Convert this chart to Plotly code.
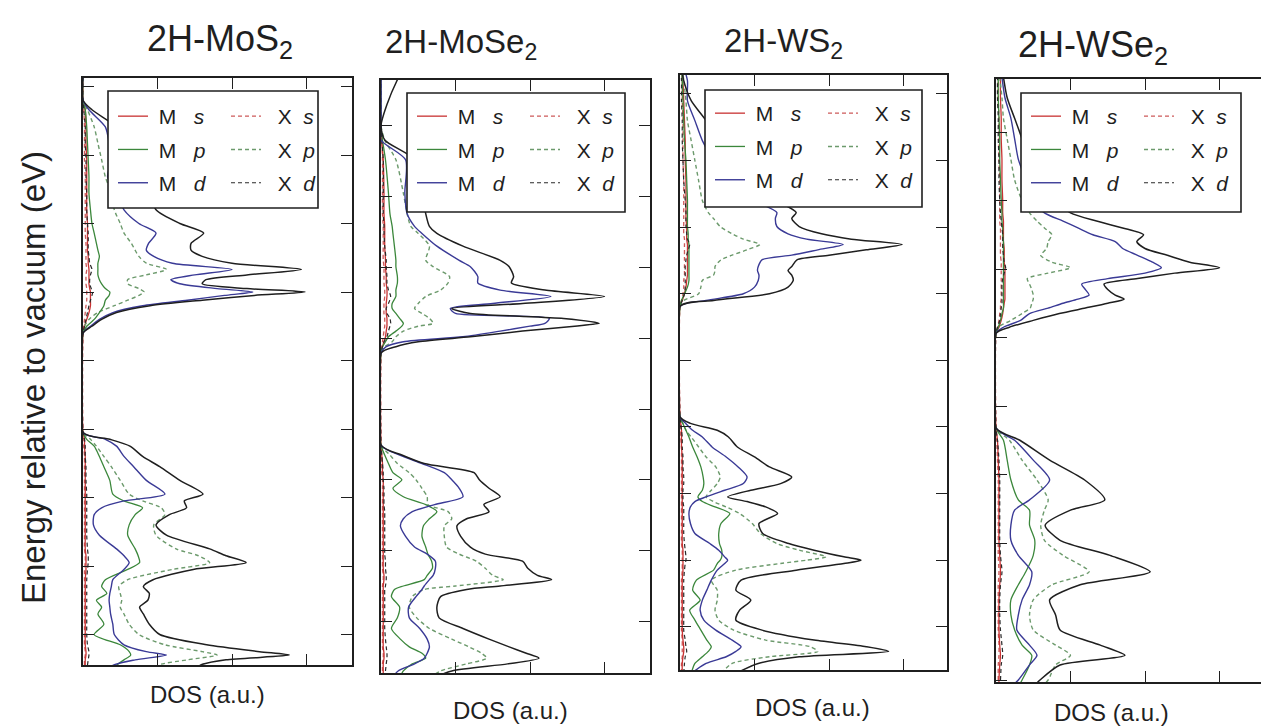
import plotly.graph_objects as go
from plotly.subplots import make_subplots

# ---------------------------------------------------------------------------
# Projected densities of states (a.u.) versus energy relative to vacuum (eV)
# ---------------------------------------------------------------------------

# 2H-MoS2
mos2_energy = [-9.55, -9.45, -9.37, -9.30, -9.25, -9.15, -9.00, -8.85, -8.70, -8.60,
               -8.50, -8.40, -8.30, -8.20, -8.05, -7.95, -7.85, -7.75, -7.55, -7.40,
               -7.25, -7.15, -7.05, -6.95, -6.75, -6.55, -6.40, -6.25, -6.15, -6.05,
               -4.60, -4.50, -4.40, -4.30, -4.20, -4.12, -4.05, -4.00, -3.95, -3.88,
               -3.82, -3.75, -3.67, -3.58, -3.48, -3.39, -3.29, -3.14, -3.00, -2.80,
               -2.56, -2.32, -2.07, -1.83, -1.59, -1.34, -1.20, -0.80]
mos2_total = [1.48, 1.57, 1.92, 2.77, 2.37, 1.66, 1.03, 0.89, 0.81, 0.76,
              0.87, 0.89, 0.81, 0.94, 1.48, 2.19, 1.92, 1.70, 1.12, 0.98,
              1.16, 1.39, 1.36, 1.61, 1.30, 1.03, 0.80, 0.63, 0.36, 0.00,
              0.00, 0.12, 0.25, 0.45, 0.90, 1.60, 2.30, 2.98, 2.20, 1.60,
              1.65, 2.20, 2.93, 2.00, 1.60, 1.45, 1.45, 1.62, 1.30, 0.98,
              0.90, 0.80, 0.70, 0.60, 0.45, 0.12, 0.00, 0.00]
mos2_md = [0.30, 0.40, 0.70, 1.12, 0.85, 0.55, 0.42, 0.40, 0.37, 0.36,
           0.35, 0.36, 0.38, 0.40, 0.55, 0.62, 0.55, 0.45, 0.22, 0.14,
           0.15, 0.25, 0.55, 1.10, 0.85, 0.68, 0.55, 0.45, 0.30, 0.00,
           0.00, 0.10, 0.22, 0.40, 0.80, 1.40, 1.90, 2.28, 1.80, 1.30,
           1.18, 1.50, 2.00, 1.20, 0.95, 0.85, 0.88, 0.98, 0.75, 0.55,
           0.45, 0.33, 0.38, 0.35, 0.30, 0.08, 0.00, 0.00]
mos2_mp = [0.40, 0.45, 0.55, 0.64, 0.62, 0.50, 0.15, 0.28, 0.20, 0.25,
           0.18, 0.32, 0.25, 0.30, 0.60, 0.76, 0.74, 0.70, 0.60, 0.62,
           0.70, 0.80, 0.55, 0.40, 0.36, 0.28, 0.22, 0.15, 0.05, 0.00,
           0.00, 0.05, 0.15, 0.22, 0.28, 0.30, 0.35, 0.36, 0.30, 0.25,
           0.22, 0.20, 0.20, 0.20, 0.22, 0.20, 0.18, 0.15, 0.12, 0.10,
           0.08, 0.08, 0.07, 0.06, 0.05, 0.03, 0.00, 0.00]
mos2_ms = [0.03, 0.03, 0.03, 0.04, 0.04, 0.03, 0.03, 0.03, 0.03, 0.03,
           0.03, 0.03, 0.03, 0.03, 0.04, 0.04, 0.04, 0.03, 0.03, 0.03,
           0.03, 0.03, 0.03, 0.03, 0.03, 0.03, 0.03, 0.02, 0.02, 0.00,
           0.00, 0.02, 0.05, 0.08, 0.10, 0.10, 0.10, 0.10, 0.09, 0.08,
           0.08, 0.08, 0.08, 0.07, 0.07, 0.06, 0.06, 0.06, 0.06, 0.05,
           0.05, 0.05, 0.05, 0.04, 0.04, 0.03, 0.00, 0.00]
mos2_xp = [0.90, 1.00, 1.40, 1.80, 1.60, 1.10, 0.75, 0.62, 0.55, 0.50,
           0.52, 0.50, 0.48, 0.60, 1.20, 1.70, 1.55, 1.25, 0.98, 0.95,
           1.10, 1.05, 0.80, 0.62, 0.50, 0.38, 0.28, 0.18, 0.10, 0.00,
           0.00, 0.02, 0.08, 0.20, 0.42, 0.60, 0.75, 0.82, 0.75, 0.60,
           0.60, 0.85, 1.12, 0.85, 0.75, 0.70, 0.65, 0.55, 0.50, 0.42,
           0.38, 0.30, 0.25, 0.20, 0.15, 0.06, 0.00, 0.00]
mos2_xs = [0.02, 0.02, 0.02, 0.03, 0.03, 0.02, 0.02, 0.02, 0.02, 0.02,
           0.02, 0.02, 0.02, 0.02, 0.02, 0.03, 0.03, 0.02, 0.02, 0.02,
           0.02, 0.02, 0.02, 0.02, 0.02, 0.02, 0.02, 0.01, 0.01, 0.00,
           0.00, 0.01, 0.02, 0.03, 0.04, 0.05, 0.05, 0.05, 0.05, 0.04,
           0.04, 0.04, 0.05, 0.04, 0.04, 0.04, 0.04, 0.03, 0.03, 0.03,
           0.03, 0.03, 0.02, 0.02, 0.02, 0.01, 0.00, 0.00]
mos2_xd = [0.06, 0.06, 0.07, 0.08, 0.08, 0.06, 0.05, 0.05, 0.05, 0.05,
           0.05, 0.05, 0.05, 0.05, 0.06, 0.07, 0.07, 0.06, 0.05, 0.05,
           0.05, 0.05, 0.05, 0.05, 0.04, 0.04, 0.03, 0.03, 0.02, 0.00,
           0.00, 0.02, 0.04, 0.06, 0.08, 0.10, 0.12, 0.13, 0.11, 0.09,
           0.09, 0.10, 0.12, 0.09, 0.08, 0.07, 0.07, 0.07, 0.06, 0.05,
           0.05, 0.04, 0.04, 0.03, 0.03, 0.01, 0.00, 0.00]

# 2H-MoSe2
mose2_energy = [-8.80, -8.70, -8.60, -8.52, -8.45, -8.36, -8.25, -8.10, -7.95, -7.80,
                -7.65, -7.55, -7.50, -7.41, -7.35, -7.25, -7.15, -7.05, -6.95, -6.80,
                -6.65, -6.55, -6.45, -6.35, -6.24, -6.12, -6.00, -5.90, -5.77, -5.65,
                -5.51,
                -4.21, -4.12, -4.05, -3.98, -3.90, -3.83, -3.79, -3.72, -3.65, -3.58,
                -3.51, -3.41, -3.32, -3.22, -3.13, -2.99, -2.90, -2.70, -2.52, -2.42,
                -2.24, -1.95, -1.48, -1.20, -1.00, -0.70, -0.35, -0.20]
mose2_total = [0.70, 0.95, 1.70, 2.12, 1.95, 1.72, 1.45, 1.10, 0.78, 0.75,
               0.80, 1.15, 1.60, 2.29, 2.10, 1.97, 1.90, 1.40, 1.20, 1.07,
               1.02, 1.15, 1.45, 1.38, 1.60, 1.45, 1.32, 1.25, 0.58, 0.28,
               0.00,
               0.00, 0.20, 0.50, 1.20, 1.90, 2.60, 2.93, 2.45, 1.20, 0.95,
               1.90, 3.00, 2.20, 1.75, 1.78, 1.72, 1.60, 1.10, 0.75, 0.65,
               0.60, 0.55, 0.45, 0.05, 0.00, 0.08, 0.22, 0.30]
mose2_md = [0.15, 0.23, 0.45, 0.58, 0.62, 0.65, 0.62, 0.52, 0.38, 0.37,
            0.47, 0.55, 0.58, 0.65, 0.70, 0.73, 0.73, 0.62, 0.45, 0.33,
            0.26, 0.30, 0.42, 0.72, 1.10, 1.05, 0.95, 0.85, 0.55, 0.25,
            0.00,
            0.00, 0.07, 0.30, 1.10, 1.60, 2.00, 2.20, 2.26, 1.00, 0.93,
            1.50, 2.28, 1.60, 1.30, 1.30, 1.20, 1.05, 0.75, 0.55, 0.45,
            0.35, 0.32, 0.33, 0.00, 0.00, 0.00, 0.00, 0.00]
mose2_mp = [0.25, 0.30, 0.42, 0.60, 0.55, 0.38, 0.26, 0.14, 0.22, 0.25,
            0.14, 0.18, 0.30, 0.58, 0.62, 0.69, 0.68, 0.63, 0.60, 0.55,
            0.57, 0.65, 0.75, 0.60, 0.30, 0.16, 0.28, 0.16, 0.10, 0.05,
            0.00,
            0.00, 0.02, 0.06, 0.10, 0.20, 0.28, 0.30, 0.25, 0.20, 0.15,
            0.15, 0.20, 0.20, 0.22, 0.22, 0.20, 0.20, 0.18, 0.16, 0.15,
            0.12, 0.10, 0.06, 0.02, 0.00, 0.00, 0.00, 0.00]
mose2_ms = [0.03, 0.03, 0.03, 0.04, 0.04, 0.03, 0.03, 0.03, 0.03, 0.03,
            0.03, 0.03, 0.03, 0.04, 0.04, 0.03, 0.03, 0.03, 0.03, 0.03,
            0.03, 0.03, 0.03, 0.03, 0.03, 0.03, 0.03, 0.02, 0.02, 0.01,
            0.00,
            0.00, 0.02, 0.04, 0.06, 0.07, 0.08, 0.08, 0.08, 0.07, 0.07,
            0.07, 0.08, 0.08, 0.07, 0.07, 0.06, 0.06, 0.05, 0.05, 0.05,
            0.04, 0.04, 0.03, 0.01, 0.00, 0.00, 0.00, 0.00]
mose2_xp = [0.65, 0.80, 1.15, 1.42, 1.35, 1.18, 0.95, 0.65, 0.48, 0.38,
            0.42, 0.58, 1.00, 1.64, 1.50, 1.40, 1.28, 1.05, 0.88, 0.85,
            0.85, 0.95, 0.90, 0.63, 0.62, 0.55, 0.47, 0.38, 0.22, 0.12,
            0.00,
            0.00, 0.05, 0.15, 0.20, 0.30, 0.50, 0.70, 0.65, 0.55, 0.45,
            0.50, 0.60, 0.80, 0.90, 0.92, 0.70, 0.60, 0.65, 0.50, 0.40,
            0.35, 0.30, 0.20, 0.05, 0.00, 0.00, 0.00, 0.00]
mose2_xs = [0.02, 0.02, 0.02, 0.03, 0.03, 0.02, 0.02, 0.02, 0.02, 0.02,
            0.02, 0.02, 0.02, 0.03, 0.03, 0.02, 0.02, 0.02, 0.02, 0.02,
            0.02, 0.02, 0.02, 0.02, 0.02, 0.02, 0.02, 0.01, 0.01, 0.01,
            0.00,
            0.00, 0.01, 0.02, 0.03, 0.04, 0.05, 0.05, 0.05, 0.04, 0.04,
            0.04, 0.05, 0.05, 0.04, 0.04, 0.04, 0.03, 0.03, 0.03, 0.03,
            0.02, 0.02, 0.02, 0.01, 0.00, 0.00, 0.00, 0.00]
mose2_xd = [0.05, 0.06, 0.07, 0.08, 0.08, 0.07, 0.06, 0.05, 0.05, 0.05,
            0.05, 0.05, 0.06, 0.07, 0.07, 0.06, 0.06, 0.05, 0.05, 0.05,
            0.05, 0.05, 0.05, 0.04, 0.04, 0.04, 0.03, 0.03, 0.02, 0.01,
            0.00,
            0.00, 0.02, 0.04, 0.08, 0.10, 0.12, 0.13, 0.12, 0.08, 0.07,
            0.10, 0.13, 0.10, 0.08, 0.08, 0.07, 0.07, 0.05, 0.04, 0.04,
            0.03, 0.03, 0.03, 0.01, 0.00, 0.00, 0.00, 0.00]

# 2H-WS2
ws2_energy = [-9.70, -9.55, -9.45, -9.37, -9.30, -9.20, -9.05, -8.90, -8.75, -8.60,
              -8.45, -8.30, -8.15, -8.05, -8.00, -7.95, -7.85, -7.75, -7.60, -7.45,
              -7.30, -7.20, -7.12, -7.05, -6.95, -6.85, -6.75, -6.60, -6.45, -6.30,
              -6.15, -6.05, -5.95, -5.85,
              -4.19, -4.10, -4.00, -3.90, -3.80, -3.72, -3.65, -3.59, -3.49, -3.42,
              -3.34, -3.26, -3.18, -3.10, -2.99, -2.87, -2.78, -2.60, -2.30, -2.00,
              -1.70, -1.40, -1.10, -0.80, -0.60]
ws2_total = [0.75, 1.05, 1.60, 2.80, 2.50, 1.80, 1.10, 0.75, 0.80, 0.95,
             0.75, 0.82, 1.56, 2.20, 2.43, 2.20, 1.80, 1.46, 1.11, 1.06,
             1.31, 1.15, 0.90, 0.64, 0.95, 1.35, 1.50, 1.20, 1.00, 0.77,
             0.65, 0.50, 0.15, 0.00,
             0.00, 0.45, 1.20, 1.45, 1.52, 1.50, 1.45, 1.50, 1.57, 2.00,
             2.50, 2.98, 2.30, 1.90, 1.60, 1.50, 1.56, 1.30, 0.90, 0.70,
             0.50, 0.35, 0.15, 0.05, 0.02]
ws2_md = [0.15, 0.35, 0.62, 0.75, 0.82, 0.70, 0.48, 0.32, 0.27, 0.30,
          0.36, 0.42, 0.50, 0.60, 0.64, 0.60, 0.52, 0.40, 0.20, 0.14,
          0.12, 0.14, 0.20, 0.35, 0.60, 0.85, 0.90, 0.78, 0.62, 0.43,
          0.30, 0.17, 0.08, 0.00,
          0.00, 0.35, 0.85, 1.00, 1.05, 1.06, 1.04, 1.05, 1.10, 1.50,
          1.85, 2.19, 1.70, 1.45, 1.30, 1.28, 1.30, 1.00, 0.65, 0.45,
          0.30, 0.20, 0.10, 0.10, 0.05]
ws2_mp = [0.15, 0.20, 0.30, 0.38, 0.42, 0.36, 0.28, 0.20, 0.13, 0.27,
          0.17, 0.22, 0.45, 0.50, 0.54, 0.56, 0.56, 0.53, 0.52, 0.55,
          0.67, 0.47, 0.30, 0.24, 0.30, 0.32, 0.31, 0.28, 0.23, 0.17,
          0.12, 0.08, 0.04, 0.00,
          0.00, 0.02, 0.06, 0.10, 0.12, 0.12, 0.12, 0.12, 0.12, 0.12,
          0.12, 0.12, 0.11, 0.11, 0.10, 0.10, 0.10, 0.10, 0.09, 0.08,
          0.06, 0.05, 0.04, 0.03, 0.02]
ws2_ms = [0.03, 0.03, 0.04, 0.05, 0.05, 0.04, 0.03, 0.03, 0.03, 0.03,
          0.03, 0.03, 0.04, 0.04, 0.04, 0.04, 0.04, 0.03, 0.03, 0.03,
          0.03, 0.03, 0.03, 0.03, 0.03, 0.03, 0.03, 0.03, 0.03, 0.02,
          0.02, 0.02, 0.01, 0.00,
          0.00, 0.03, 0.06, 0.08, 0.09, 0.10, 0.10, 0.10, 0.10, 0.10,
          0.10, 0.10, 0.09, 0.09, 0.09, 0.08, 0.08, 0.08, 0.08, 0.07,
          0.07, 0.06, 0.05, 0.04, 0.03]
ws2_xp = [0.55, 0.70, 1.20, 1.85, 1.75, 1.15, 0.72, 0.52, 0.47, 0.50,
          0.50, 0.42, 0.75, 1.35, 1.70, 1.96, 1.60, 1.30, 1.08, 0.97,
          0.80, 0.62, 0.45, 0.35, 0.42, 0.50, 0.54, 0.48, 0.35, 0.25,
          0.15, 0.08, 0.04, 0.00,
          0.00, 0.05, 0.25, 0.28, 0.30, 0.45, 0.47, 0.47, 0.55, 0.70,
          0.90, 1.07, 0.85, 0.70, 0.54, 0.45, 0.38, 0.30, 0.25, 0.20,
          0.15, 0.10, 0.08, 0.05, 0.03]
ws2_xs = [0.02, 0.02, 0.03, 0.03, 0.03, 0.03, 0.02, 0.02, 0.02, 0.02,
          0.02, 0.02, 0.03, 0.03, 0.03, 0.03, 0.03, 0.02, 0.02, 0.02,
          0.02, 0.02, 0.02, 0.02, 0.02, 0.02, 0.02, 0.02, 0.02, 0.02,
          0.01, 0.01, 0.01, 0.00,
          0.00, 0.02, 0.04, 0.05, 0.05, 0.06, 0.06, 0.06, 0.06, 0.06,
          0.06, 0.06, 0.06, 0.05, 0.05, 0.05, 0.05, 0.05, 0.05, 0.04,
          0.04, 0.04, 0.03, 0.03, 0.02]
ws2_xd = [0.05, 0.06, 0.07, 0.09, 0.08, 0.07, 0.05, 0.05, 0.05, 0.05,
          0.05, 0.05, 0.06, 0.07, 0.08, 0.08, 0.07, 0.06, 0.05, 0.05,
          0.05, 0.05, 0.04, 0.04, 0.04, 0.05, 0.05, 0.04, 0.04, 0.03,
          0.03, 0.02, 0.01, 0.00,
          0.00, 0.03, 0.06, 0.07, 0.07, 0.07, 0.07, 0.07, 0.08, 0.09,
          0.11, 0.13, 0.10, 0.09, 0.08, 0.08, 0.08, 0.07, 0.05, 0.04,
          0.03, 0.03, 0.02, 0.02, 0.01]

# 2H-WSe2
wse2_energy = [-9.10, -9.00, -8.78, -8.64, -8.49, -8.27, -8.05, -7.83, -7.61, -7.42,
               -7.18, -6.96, -6.74, -6.52, -6.37, -6.08, -5.79, -5.50, -5.32,
               -3.94, -3.85, -3.75, -3.65, -3.57, -3.50, -3.44, -3.38, -3.30, -3.22,
               -3.14, -3.06, -2.98, -2.90, -2.80, -2.70, -2.60, -2.50, -2.40, -2.30,
               -2.18, -2.00, -1.70, -1.40, -1.10, -0.80, -0.50, -0.20]
wse2_total = [0.50, 0.59, 0.86, 1.73, 1.40, 0.86, 0.80, 0.72, 1.13, 2.07,
              1.53, 0.86, 0.66, 1.00, 1.46, 1.19, 0.72, 0.32, 0.00,
              0.00, 0.18, 0.50, 0.85, 1.20, 1.50, 1.72, 1.60, 1.50, 1.45,
              1.90, 2.40, 3.00, 2.60, 2.30, 2.00, 1.89, 1.98, 1.70, 1.35,
              1.00, 0.80, 0.60, 0.45, 0.35, 0.25, 0.15, 0.10]
wse2_md = [0.20, 0.30, 0.45, 0.55, 0.45, 0.28, 0.30, 0.35, 0.45, 0.48,
           0.30, 0.20, 0.20, 0.25, 0.45, 0.72, 0.50, 0.25, 0.00,
           0.00, 0.10, 0.33, 0.45, 0.70, 0.90, 1.10, 1.25, 1.20, 1.15,
           1.50, 2.00, 2.22, 2.10, 1.90, 1.70, 1.60, 1.30, 1.10, 0.90,
           0.65, 0.50, 0.40, 0.30, 0.25, 0.20, 0.12, 0.08]
wse2_mp = [0.30, 0.35, 0.45, 0.48, 0.35, 0.25, 0.20, 0.20, 0.30, 0.40,
           0.50, 0.52, 0.45, 0.45, 0.30, 0.20, 0.15, 0.10, 0.00,
           0.00, 0.03, 0.06, 0.08, 0.10, 0.10, 0.10, 0.10, 0.10, 0.10,
           0.10, 0.10, 0.10, 0.10, 0.10, 0.10, 0.10, 0.09, 0.09, 0.08,
           0.08, 0.07, 0.06, 0.05, 0.05, 0.04, 0.03, 0.03]
wse2_ms = [0.04, 0.04, 0.05, 0.06, 0.05, 0.04, 0.04, 0.04, 0.05, 0.06,
           0.05, 0.04, 0.04, 0.04, 0.04, 0.04, 0.03, 0.02, 0.00,
           0.00, 0.04, 0.07, 0.09, 0.10, 0.11, 0.12, 0.12, 0.12, 0.12,
           0.12, 0.12, 0.12, 0.11, 0.11, 0.11, 0.10, 0.10, 0.10, 0.10,
           0.09, 0.09, 0.08, 0.08, 0.07, 0.07, 0.06, 0.06]
wse2_xp = [0.60, 0.70, 0.80, 1.00, 0.80, 0.50, 0.45, 0.50, 0.75, 1.25,
           0.90, 0.65, 0.60, 0.65, 0.70, 0.55, 0.35, 0.18, 0.00,
           0.00, 0.03, 0.20, 0.35, 0.46, 0.48, 0.50, 0.50, 0.48, 0.45,
           0.42, 0.70, 1.00, 0.75, 0.60, 0.68, 0.70, 0.75, 0.65, 0.55,
           0.45, 0.35, 0.25, 0.20, 0.15, 0.10, 0.08, 0.05]
wse2_xs = [0.03, 0.03, 0.03, 0.04, 0.04, 0.03, 0.03, 0.03, 0.03, 0.04,
           0.03, 0.03, 0.03, 0.03, 0.03, 0.03, 0.02, 0.01, 0.00,
           0.00, 0.02, 0.04, 0.05, 0.06, 0.06, 0.07, 0.07, 0.07, 0.07,
           0.07, 0.07, 0.07, 0.07, 0.06, 0.06, 0.06, 0.06, 0.06, 0.05,
           0.05, 0.05, 0.05, 0.04, 0.04, 0.04, 0.03, 0.03]
wse2_xd = [0.05, 0.06, 0.07, 0.09, 0.08, 0.06, 0.05, 0.05, 0.06, 0.08,
           0.06, 0.05, 0.05, 0.05, 0.05, 0.05, 0.04, 0.02, 0.00,
           0.00, 0.02, 0.05, 0.06, 0.07, 0.08, 0.08, 0.08, 0.08, 0.08,
           0.09, 0.11, 0.13, 0.11, 0.10, 0.09, 0.09, 0.09, 0.08, 0.07,
           0.06, 0.05, 0.04, 0.04, 0.03, 0.03, 0.02, 0.02]

titles = ["2H-MoS<sub>2</sub>", "2H-MoSe<sub>2</sub>", "2H-WS<sub>2</sub>", "2H-WSe<sub>2</sub>"]

# ---------------------------------------------------------------------------
# Page geometry (pixels) and styles
# ---------------------------------------------------------------------------
W, H = 1261, 728
FONT = "Liberation Sans, Arial, Helvetica, sans-serif"
INK = "#1f1f1f"
PX_PER_DOS = 74.5

panels = [
    dict(energy=mos2_energy, total=mos2_total, ms=mos2_ms, mp=mos2_mp, md=mos2_md,
         xs=mos2_xs, xp=mos2_xp, xd=mos2_xd,
         box=(83, 78, 352, 665), erange=(-9.445, -0.876),
         legend_box=(108, 91, 318, 208), row1=115, title_at=(220, 41), title_size=36,
         label_at=(207, 694)),
    dict(energy=mose2_energy, total=mose2_total, ms=mose2_ms, mp=mose2_mp, md=mose2_md,
         xs=mose2_xs, xp=mose2_xp, xd=mose2_xd,
         box=(381, 80, 650, 673), erange=(-8.729, -0.353),
         legend_box=(407, 93, 625, 212), row1=115, title_at=(461, 44), title_size=33,
         label_at=(510, 710)),
    dict(energy=ws2_energy, total=ws2_total, ms=ws2_ms, mp=ws2_mp, md=ws2_md,
         xs=ws2_xs, xp=ws2_xp, xd=ws2_xd,
         box=(680, 75, 947, 670), erange=(-9.649, -0.715),
         legend_box=(705, 90, 922, 207), row1=112, title_at=(783, 43), title_size=33,
         label_at=(812, 707)),
    dict(energy=wse2_energy, total=wse2_total, ms=wse2_ms, mp=wse2_mp, md=wse2_md,
         xs=wse2_xs, xp=wse2_xp, xd=wse2_xd,
         box=(996, 79, 1261, 682), erange=(-9.029, -0.226),
         legend_box=(1021, 93, 1241, 212), row1=115, title_at=(1093, 47), title_size=36,
         label_at=(1111, 712)),
]

DASH = "4px,3px"
components = [
    # key, site, orbital, colour, dash, width
    ("xs", "X", "s", "#cd5a5a", DASH, 1.3),
    ("ms", "M", "s", "#c83232", "solid", 1.3),
    ("xp", "X", "p", "#6c9a6c", DASH, 1.4),
    ("mp", "M", "p", "#3b873b", "solid", 1.3),
    ("xd", "X", "d", "#2a2a2a", DASH, 1.2),
    ("md", "M", "d", "#3a3a96", "solid", 1.4),
]

fig = make_subplots(rows=1, cols=4)

for i, p in enumerate(panels):
    n = len(p["energy"])
    for key in ("total", "ms", "mp", "md", "xs", "xp", "xd"):
        if len(p[key]) != n:
            raise ValueError(f"panel {i}: series {key} has {len(p[key])} values, expected {n}")

    m_legend = "legend" if i == 0 else f"legend{2 * i + 1}"
    x_legend = f"legend{2 * i + 2}"
    for key, site, orb, colour, dash, width in components:
        if site == "M":
            label = f"\u00a0M\u00a0\u00a0\u00a0<i>{orb}</i>"
        else:
            label = f"\u00a0\u00a0X\u00a0\u00a0<i>{orb}</i>"
        fig.add_trace(
            go.Scatter(
                x=p[key], y=p["energy"], mode="lines",
                line=dict(color=colour, width=width, dash=dash, shape="spline", smoothing=0.7),
                name=label,
                legend=m_legend if site == "M" else x_legend,
                legendgroup=f"p{i}{key}",
                hoverinfo="skip",
            ),
            row=1, col=i + 1,
        )
    fig.add_trace(
        go.Scatter(
            x=p["total"], y=p["energy"], mode="lines",
            line=dict(color=INK, width=1.5, shape="spline", smoothing=0.7),
            showlegend=False, hoverinfo="skip",
        ),
        row=1, col=i + 1,
    )

layout = dict(
    width=W, height=H,
    margin=dict(l=0, r=0, t=0, b=0),
    paper_bgcolor="white", plot_bgcolor="white",
    font=dict(family=FONT, color=INK),
    shapes=[], annotations=[],
)

axis_common = dict(
    showticklabels=False, ticks="inside", ticklen=11, tickwidth=1.3, tickcolor=INK,
    showline=True, linecolor=INK, linewidth=1.7,
    showgrid=False, zeroline=False, dtick=1, tick0=0, fixedrange=True,
)

for i, p in enumerate(panels):
    left, top, right, bottom = p["box"]
    suffix = "" if i == 0 else str(i + 1)
    layout[f"xaxis{suffix}"] = dict(
        axis_common,
        domain=[left / W, right / W],
        range=[0, (right - left) / PX_PER_DOS],
        mirror="ticks",
    )
    layout[f"yaxis{suffix}"] = dict(
        axis_common,
        domain=[1 - bottom / H, 1 - top / H],
        range=list(p["erange"]),
        mirror="ticks" if i < 3 else False,
    )

    # legend: two columns (metal / chalcogen) inside one framed white box
    bl, bt, br, bb = p["legend_box"]
    layout["shapes"].append(dict(
        type="rect", xref="paper", yref="paper",
        x0=bl / W, x1=br / W, y0=1 - bb / H, y1=1 - bt / H,
        line=dict(color=INK, width=1.6), fillcolor="white", layer="above",
    ))
    legend_top = p["row1"] - 19
    for name, lx in ((("legend" if i == 0 else f"legend{2 * i + 1}"), bl + 5),
                     (f"legend{2 * i + 2}", bl + 118)):
        layout[name] = dict(
            x=lx / W, y=1 - legend_top / H, xanchor="left", yanchor="top",
            orientation="v", traceorder="grouped", tracegroupgap=3,
            bgcolor="rgba(0,0,0,0)", borderwidth=0,
            font=dict(family=FONT, size=21, color=INK),
        )

    tx, ty = p["title_at"]
    layout["annotations"].append(dict(
        text=titles[i], x=tx / W, y=1 - ty / H, xref="paper", yref="paper",
        xanchor="center", yanchor="middle", showarrow=False,
        font=dict(family=FONT, size=p["title_size"], color=INK),
    ))
    lx, ly = p["label_at"]
    layout["annotations"].append(dict(
        text="DOS (a.u.)", x=lx / W, y=1 - ly / H, xref="paper", yref="paper",
        xanchor="center", yanchor="middle", showarrow=False,
        font=dict(family=FONT, size=24, color=INK),
    ))

# right-hand tick marks of the last panel (its frame is cut at the page edge)
layout["yaxis5"] = dict(
    axis_common, showline=False, overlaying="y4", anchor="x4", side="right",
    range=list(panels[3]["erange"]),
)

layout["annotations"].append(dict(
    text="Energy relative to vacuum (eV)", x=33 / W, y=1 - 378 / H,
    xref="paper", yref="paper", xanchor="center", yanchor="middle",
    textangle=-90, showarrow=False, font=dict(family=FONT, size=33, color=INK),
))

fig.update_layout(**layout)
fig.write_html("out.html")
